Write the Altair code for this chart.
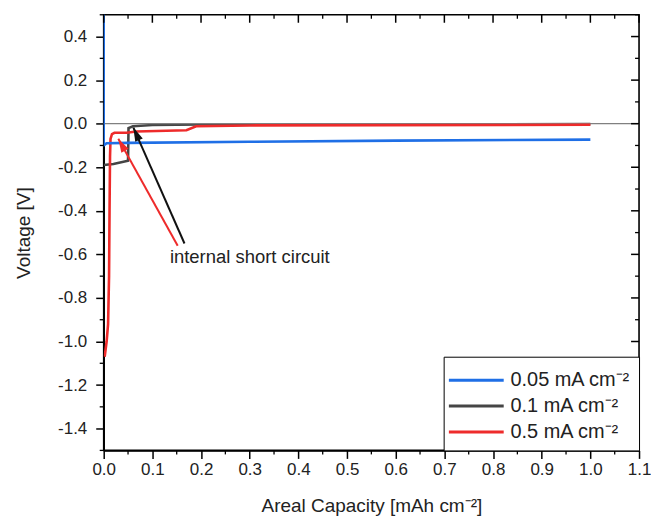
import altair as alt
import pandas as pd

# ---- data ----
series_names = ["0.05 mA cm⁻²", "0.1 mA cm⁻²", "0.5 mA cm⁻²"]
series_colors = ["#1f6fe6", "#454545", "#ee2b2b"]

blue_x = [0.0, 0.0, 0.006, 0.05, 0.3, 0.6, 1.0]
blue_y = [0.6, -0.10, -0.090, -0.088, -0.083, -0.078, -0.073]

black_x = [0.0, 0.02, 0.05, 0.051, 0.06, 0.1, 0.2, 0.6, 1.0]
black_y = [-0.19, -0.185, -0.17, -0.02, -0.012, -0.006, -0.004, -0.003, -0.002]

red_x = [0.002, 0.006, 0.009, 0.011, 0.012, 0.013, 0.014, 0.017, 0.022, 0.047, 0.067, 0.17, 0.19, 0.3, 1.0]
red_y = [-1.07, -1.0, -0.92, -0.7, -0.4, -0.15, -0.07, -0.048, -0.042, -0.042, -0.036, -0.03, -0.012, -0.008, -0.005]

# annotation arrows (red, black)
arrow_color = ["#ee2b2b", "#111111"]
arrow_tail_x = [0.152, 0.166]
arrow_tail_y = [-0.56, -0.55]
arrow_tip_x = [0.030, 0.061]
arrow_tip_y = [-0.069, -0.018]
arrow_angle = [331, 336]
note_text = ["internal short circuit"]
note_x = [0.136]
note_y = [-0.61]

x_major = [round(0.1 * i, 1) for i in range(12)]
x_minor = [round(0.05 + 0.1 * i, 2) for i in range(11)]
y_major = [round(-1.4 + 0.2 * i, 1) for i in range(10)]
y_minor = [round(-1.5 + 0.2 * i, 1) for i in range(11)]

W, H = 537, 437
FONT = "Liberation Sans"

xs = alt.Scale(domain=[0, 1.1], nice=False, zero=False)
ys = alt.Scale(domain=[-1.5, 0.5], nice=False, zero=False)
cs = alt.Scale(domain=series_names, range=series_colors)

def series_df(name, x, y):
    return pd.DataFrame({"cap": x, "volt": y, "series": name, "i": range(len(x))})

legend = alt.Legend(
    title=None, orient="bottom-right", offset=0, symbolType="M-3,0L1,0",
    symbolSize=756, symbolStrokeWidth=3, symbolOffset=23,
    labelFontSize=20, labelFont=FONT, labelColor="#222222",
    padding=8, rowPadding=0, labelOffset=5,
    strokeColor="black", fillColor="white",
)

x_axis = alt.Axis(values=x_major, format=".1f", title="Areal Capacity [mAh cm⁻²]",
                  tickSize=8, labelPadding=3, titlePadding=19, grid=False, labelFlush=False)
y_axis = alt.Axis(values=y_major, title="Voltage [V]", tickSize=8, labelPadding=9,
                  titlePadding=24, grid=False, labelFlush=False,
                  labelExpr="datum.value < -0.001 ? '-' + format(-datum.value, '.1f') : format(datum.value, '.1f')")

def line_layer(df, axes=False):
    if axes:
        xe = alt.X("cap:Q", scale=xs, axis=x_axis)
        ye = alt.Y("volt:Q", scale=ys, axis=y_axis)
    else:
        xe = alt.X("cap:Q", scale=xs)
        ye = alt.Y("volt:Q", scale=ys)
    return alt.Chart(df).mark_line(strokeWidth=2.6, clip=True).encode(
        x=xe, y=ye,
        color=alt.Color("series:N", scale=cs, legend=legend),
        order="i:Q",
    )

black_l = line_layer(series_df(series_names[1], black_x, black_y), axes=True)
red_l = line_layer(series_df(series_names[2], red_x, red_y))
blue_l = line_layer(series_df(series_names[0], blue_x, blue_y))

zero_line = alt.Chart(pd.DataFrame({"volt": [0.0]})).mark_rule(color="#808080", strokeWidth=1.2).encode(
    y=alt.Y("volt:Q", scale=ys)
)

arrows_df = pd.DataFrame({"cap": arrow_tail_x, "volt": arrow_tail_y, "x2": arrow_tip_x,
                          "y2": arrow_tip_y, "c": arrow_color, "a": arrow_angle})
arrow_lines = alt.Chart(arrows_df).mark_rule(strokeWidth=2).encode(
    x=alt.X("cap:Q", scale=xs), y=alt.Y("volt:Q", scale=ys),
    x2="x2:Q", y2="y2:Q", color=alt.Color("c:N", scale=None, legend=None),
)
heads_df = pd.DataFrame({"cap": arrow_tip_x, "volt": arrow_tip_y, "c": arrow_color, "a": arrow_angle})
arrow_heads = alt.Chart(heads_df).mark_point(
    shape="M0,0L-0.6,2L0.6,2Z", filled=True, opacity=1, size=190
).encode(
    x=alt.X("cap:Q", scale=xs), y=alt.Y("volt:Q", scale=ys),
    color=alt.Color("c:N", scale=None, legend=None), angle=alt.Angle("a:Q", scale=None),
)
note = alt.Chart(pd.DataFrame({"t": note_text, "cap": note_x, "volt": note_y})).mark_text(
    align="left", baseline="middle", font=FONT, fontSize=18.5, color="#222222"
).encode(x=alt.X("cap:Q", scale=xs), y=alt.Y("volt:Q", scale=ys), text="t:N")

# minor / mirrored ticks
def tdf(v):
    return pd.DataFrame({"cap": v, "volt": v})

bx_minor = alt.Chart(tdf(x_minor)).mark_rule(color="black", strokeWidth=1.3).encode(
    x=alt.X("cap:Q", scale=xs), y=alt.value(H), y2=alt.value(H + 4))
ly_minor = alt.Chart(tdf(y_minor)).mark_rule(color="black", strokeWidth=1.3).encode(
    y=alt.Y("volt:Q", scale=ys), x=alt.value(0), x2=alt.value(-4))
tx_major = alt.Chart(tdf(x_major)).mark_rule(color="black", strokeWidth=1.5).encode(
    x=alt.X("cap:Q", scale=xs), y=alt.value(0), y2=alt.value(8))
tx_minor = alt.Chart(tdf(x_minor)).mark_rule(color="black", strokeWidth=1.3).encode(
    x=alt.X("cap:Q", scale=xs), y=alt.value(0), y2=alt.value(4))
ry_major = alt.Chart(tdf(y_major)).mark_rule(color="black", strokeWidth=1.5).encode(
    y=alt.Y("volt:Q", scale=ys), x=alt.value(W), x2=alt.value(W - 8))
ry_minor = alt.Chart(tdf(y_minor)).mark_rule(color="black", strokeWidth=1.3).encode(
    y=alt.Y("volt:Q", scale=ys), x=alt.value(W), x2=alt.value(W - 4))

chart = alt.layer(
    black_l, zero_line, red_l, blue_l, arrow_lines, arrow_heads, note,
    bx_minor, ly_minor, tx_major, tx_minor, ry_major, ry_minor,
).properties(
    width=W, height=H, background="white",
    padding={"left": 6, "top": 5, "right": 0, "bottom": 0},
).configure_view(
    stroke="black", strokeWidth=1.6
).configure_axis(
    domainColor="black", domainWidth=1.6, tickColor="black", tickWidth=1.5,
    labelFont=FONT, labelFontSize=17, labelColor="#222222",
    titleFont=FONT, titleFontSize=19, titleFontWeight="normal", titleColor="#222222",
)

chart.save("out.html", embed_options={"renderer": "svg", "actions": False})
